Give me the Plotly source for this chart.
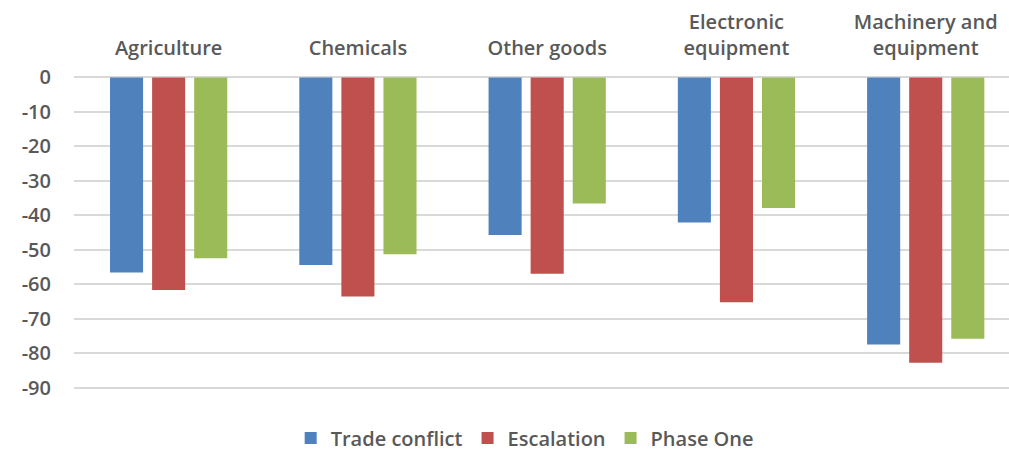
import plotly.graph_objects as go

# Sector categories (line breaks as shown in the axis labels)
categories = ["Agriculture", "Chemicals", "Other goods",
              "Electronic<br>equipment", "Machinery and<br>equipment"]

# Percentage change by scenario
trade_conflict = [-56.6, -54.4, -45.7, -42.1, -77.5]
escalation = [-61.7, -63.6, -57.0, -65.2, -82.8]
phase_one = [-52.5, -51.3, -36.6, -37.9, -75.8]

y_ticks = [0, -10, -20, -30, -40, -50, -60, -70, -80, -90]
y_tick_labels = ["0", "-10", "-20", "-30", "-40", "-50", "-60", "-70", "-80", "-90"]

series = [
    ("Trade conflict", trade_conflict, "#4f81bd"),
    ("Escalation", escalation, "#c0504d"),
    ("Phase One", phase_one, "#9bbb59"),
]

text_color = "#595959"
font_family = "Open Sans"

fig = go.Figure()
for name, vals, color in series:
    fig.add_trace(go.Bar(
        name=name, x=categories, y=vals,
        marker=dict(color=color, line=dict(width=0)),
    ))

fig.update_layout(
    width=1009, height=453,
    margin=dict(l=74, r=0, t=76, b=64, autoexpand=False),
    paper_bgcolor="white", plot_bgcolor="white",
    barmode="group", bargap=0.333, bargroupgap=0.214,
    font=dict(family=font_family, color=text_color, size=19, weight=600),
    showlegend=True,
    legend=dict(
        orientation="h", x=0.52, xanchor="center", xref="container",
        y=0.033, yanchor="middle", yref="container",
        font=dict(size=20, color=text_color, weight=600),
        itemsizing="constant", traceorder="normal",
    ),
    xaxis=dict(
        side="top", type="category", range=[-0.5, 4.44],
        showgrid=False, showline=False, ticks="",
        tickfont=dict(size=20, color=text_color, weight=600),
        ticklabelstandoff=16,
    ),
    yaxis=dict(
        range=[-90.4, 0.4], tickvals=y_ticks, ticktext=y_tick_labels,
        showgrid=True, gridcolor="#d9d9d9", gridwidth=1.5,
        zeroline=True, zerolinecolor="#d9d9d9", zerolinewidth=1.5,
        showline=False, ticks="",
        tickfont=dict(size=20, color=text_color, weight=600),
        ticklabelstandoff=22,
    ),
)

fig.write_html("out.html")
